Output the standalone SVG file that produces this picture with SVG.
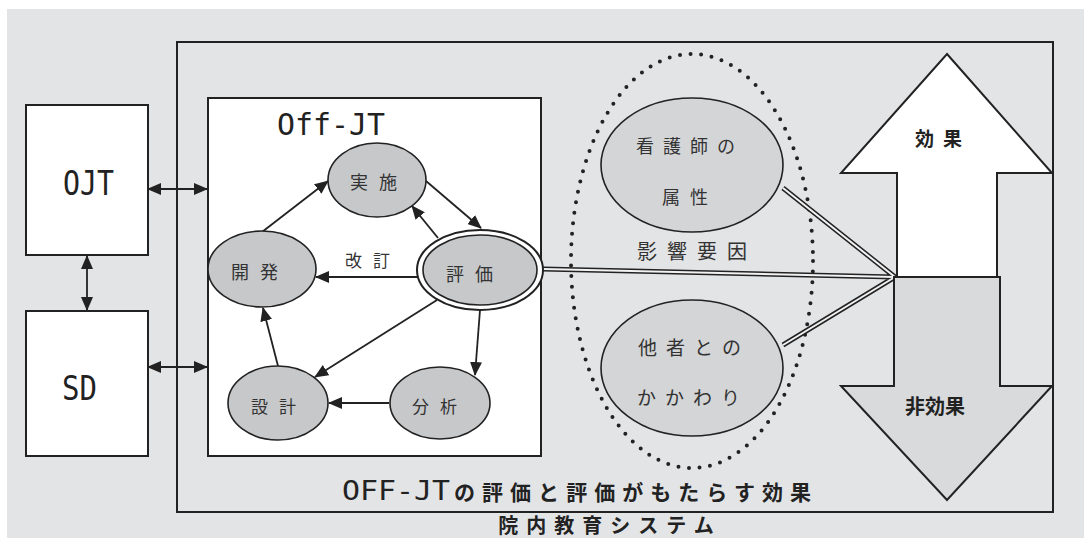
<svg xmlns="http://www.w3.org/2000/svg" width="1084" height="538" viewBox="0 0 1084 538">
<style>
.box{fill:#fff;stroke:#222;stroke-width:2}
.nd{fill:#c7c8ca;stroke:#222;stroke-width:1.6}
.nd2{fill:#d4d5d7;stroke:#222;stroke-width:1.6}
.lat{font-family:"DejaVu Sans Mono","Noto Sans CJK JP",monospace;fill:#222}
.jp{font-family:"Noto Sans CJK JP","Noto Sans",sans-serif;fill:#333}
.jpb{font-family:"Noto Sans CJK JP","Noto Sans",sans-serif;fill:#222;font-weight:bold}
.ar{fill:none;stroke:#222;stroke-width:1.8}
.dbo{fill:none;stroke:#222;stroke-width:5}
.dbi{fill:none;stroke:#f2f2f2;stroke-width:2}
</style>
<defs>
<marker id="ah" markerUnits="userSpaceOnUse" markerWidth="14" markerHeight="12" refX="13" refY="6" orient="auto-start-reverse" viewBox="0 0 14 12">
<path d="M0,0 L14,6 L0,12 z" fill="#222"/>
</marker>
</defs>
<rect x="7" y="9" width="1077" height="529" fill="#e3e4e6"/>
<g id="system">
<rect x="177" y="42" width="876" height="470" fill="none" stroke="#222" stroke-width="2"/>
<text class="jpb" x="610" y="533" font-size="20" text-anchor="middle" letter-spacing="8">院内教育システム</text>
<text y="500" font-weight="bold"><tspan class="lat" x="342" font-size="26" font-weight="normal" textLength="108" lengthAdjust="spacingAndGlyphs">OFF-JT</tspan><tspan class="jpb" x="454" font-size="21" textLength="357" lengthAdjust="spacing">の評価と評価がもたらす効果</tspan></text>
</g>
<g id="ojt">
<rect class="box" x="26" y="105" width="122" height="150"/>
<text class="lat" x="63" y="195" font-size="33" textLength="51" lengthAdjust="spacingAndGlyphs">OJT</text>
</g>
<g id="sd">
<rect class="box" x="26" y="311" width="122" height="145"/>
<text class="lat" x="62" y="400" font-size="33" textLength="35" lengthAdjust="spacingAndGlyphs">SD</text>
</g>
<g id="offjt">
<rect class="box" x="208" y="98" width="333" height="358"/>
<text class="lat" x="277" y="135" font-size="31" textLength="108" lengthAdjust="spacingAndGlyphs">Off-JT</text>
</g>
<g id="influence">
<ellipse cx="692" cy="261" rx="121" ry="207" fill="none" stroke="#222" stroke-width="4" stroke-linecap="round" stroke-dasharray="0 10.6"/>
<text class="jp" x="697" y="259" font-size="20" text-anchor="middle" letter-spacing="10">影響要因</text>
</g>
<g id="connectors">
<line class="ar" x1="148" y1="189" x2="207" y2="189" marker-start="url(#ah)" marker-end="url(#ah)"/>
<line class="ar" x1="148" y1="367" x2="207" y2="367" marker-start="url(#ah)" marker-end="url(#ah)"/>
<line class="ar" x1="87" y1="256" x2="87" y2="310" marker-start="url(#ah)" marker-end="url(#ah)"/>
<line class="ar" x1="262" y1="232" x2="328" y2="181" marker-end="url(#ah)"/>
<line class="ar" x1="426" y1="181" x2="481" y2="228" marker-end="url(#ah)"/>
<line class="ar" x1="438" y1="238" x2="412" y2="206" marker-end="url(#ah)"/>
<line class="ar" x1="418" y1="277" x2="316" y2="277" marker-end="url(#ah)"/>
<line class="ar" x1="437" y1="300" x2="315" y2="377" marker-end="url(#ah)"/>
<line class="ar" x1="480" y1="310" x2="475" y2="375" marker-end="url(#ah)"/>
<line class="ar" x1="389" y1="403" x2="329" y2="403" marker-end="url(#ah)"/>
<line class="ar" x1="278" y1="366" x2="263" y2="308" marker-end="url(#ah)"/>
<path class="dbo" d="M543,269 L895,277 M783,188 L895,277 M783,345 L895,277"/>
<path class="dbi" d="M543,269 L895,277 M783,188 L895,277 M783,345 L895,277"/>
</g>
<g id="jisshi">
<ellipse class="nd" cx="377" cy="180" rx="49" ry="37"/>
<text class="jp" x="379" y="189" font-size="18" text-anchor="middle" letter-spacing="11">実施</text>
</g>
<g id="kaihatsu">
<ellipse class="nd" cx="262" cy="269" rx="54" ry="38"/>
<text class="jp" x="260" y="279" font-size="18" text-anchor="middle" letter-spacing="11">開発</text>
</g>
<g id="hyoka">
<ellipse cx="480" cy="270" rx="63" ry="40" fill="#fff" stroke="#222" stroke-width="2"/>
<ellipse class="nd" cx="480" cy="270" rx="57" ry="35" stroke-width="2"/>
<text class="jp" x="475" y="281" font-size="18" text-anchor="middle" letter-spacing="11">評価</text>
</g>
<g id="kaitei">
<text class="jp" x="373" y="267" font-size="17" text-anchor="middle" letter-spacing="11">改訂</text>
</g>
<g id="sekkei">
<ellipse class="nd" cx="278" cy="403" rx="50" ry="37"/>
<text class="jp" x="279" y="413" font-size="17" text-anchor="middle" letter-spacing="11">設計</text>
</g>
<g id="bunseki">
<ellipse class="nd" cx="440" cy="403" rx="50" ry="36"/>
<text class="jp" x="440" y="413" font-size="17" text-anchor="middle" letter-spacing="11">分析</text>
</g>
<g id="zokusei">
<ellipse class="nd2" cx="692" cy="165" rx="91" ry="67"/>
<text class="jp" x="690" y="153" font-size="18" text-anchor="middle" letter-spacing="9">看護師の</text>
<text class="jp" x="690" y="204" font-size="18" text-anchor="middle" letter-spacing="10">属性</text>
</g>
<g id="kakawari">
<ellipse class="nd2" cx="692" cy="368" rx="91" ry="68"/>
<text class="jp" x="694" y="355" font-size="19" text-anchor="middle" letter-spacing="9">他者との</text>
<text class="jp" x="693" y="405" font-size="19" text-anchor="middle" letter-spacing="9">かかわり</text>
</g>
<g id="kouka">
<path d="M947,54 L1052,173 L997,173 L997,277 L897,277 L897,173 L841,173 Z" fill="#fff" stroke="#222" stroke-width="2" stroke-linejoin="miter"/>
<text class="jpb" x="943" y="146" font-size="19" text-anchor="middle" letter-spacing="9">効果</text>
</g>
<g id="hikouka">
<path d="M894,277 L1000,277 L1000,386 L1052,386 L947,500 L841,386 L894,386 Z" fill="#d9dadc" stroke="#222" stroke-width="2"/>
<text class="jpb" x="935" y="414" font-size="20" text-anchor="middle">非効果</text>
</g>
</svg>
